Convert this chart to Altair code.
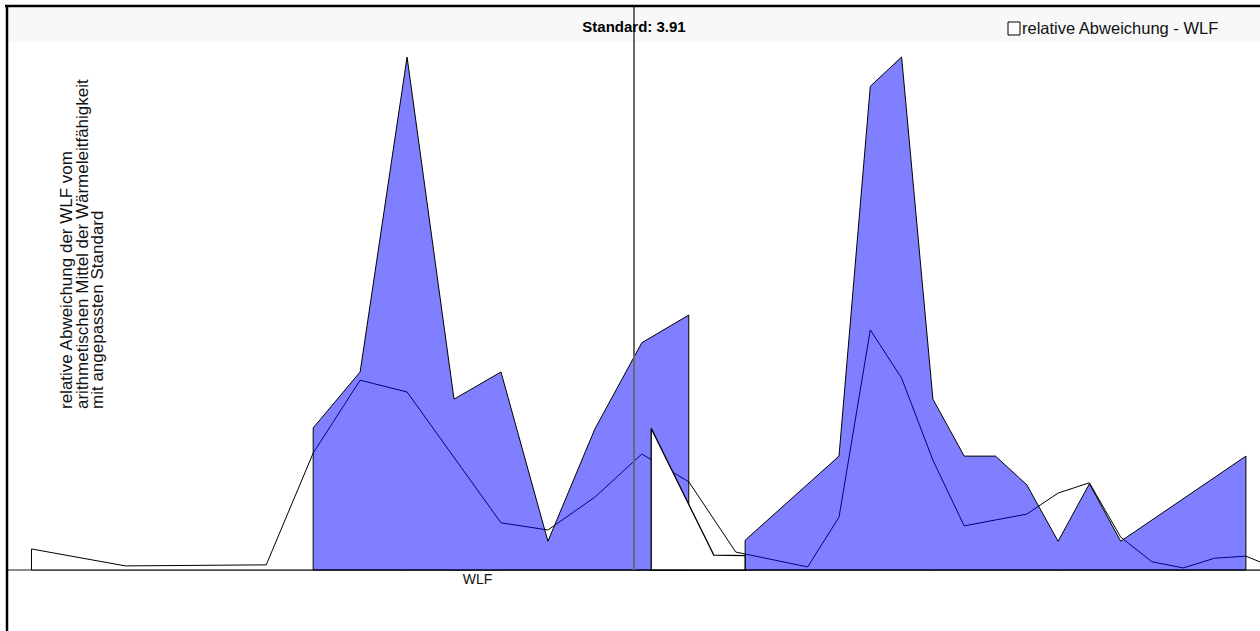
import altair as alt
import pandas as pd

line_x = [0.75, 3.75, 8.25, 9.75, 11.25, 12.75, 15.75, 17.25, 18.75, 20.25, 21.75, 23.25,
          25.55, 26.55, 27.55, 28.55, 29.55, 30.55, 31.55, 32.55, 33.55, 34.55, 35.55,
          36.55, 37.55, 38.55, 39.55, 40.55]
line_v = [4.1, 0.8, 1.0, 22.8, 37.0, 34.7, 9.2, 7.8, 14.2, 22.6, 17.2, 3.5,
          0.6, 10.3, 46.8, 37.4, 21.4, 8.6, 9.75, 10.9, 15.0, 17.0, 6.4,
          1.6, 0.4, 2.3, 2.7, 0.2]

blue1_x = [9.75, 11.25, 12.75, 14.25, 15.75, 17.25, 18.75, 20.25, 21.75]
blue1_v = [27.7, 38.6, 100.0, 33.3, 38.6, 5.6, 27.5, 44.3, 49.7]
blue2_x = [23.55, 26.55, 27.55, 28.55, 29.55, 30.55, 31.55, 32.55, 33.55, 34.55, 35.55, 39.55]
blue2_v = [5.8, 22.2, 94.3, 100.0, 33.3, 22.2, 22.2, 16.6, 5.6, 16.8, 5.6, 22.2]

tri_x = [20.55, 22.55, 23.55]
tri_v = [27.6, 2.9, 2.8]

standard_x = [20.0]
category_x = [15.0]
category_label = ["WLF"]
title_text = ["Standard: 3.91"]
legend_label = ["relative Abweichung - WLF"]
y_title = ["relative Abweichung der WLF vom\narithmetischen Mittel der Wärmeleitfähigkeit\nmit angepassten Standard"]

FONT = "Liberation Sans"

line_df = pd.DataFrame({"x": line_x, "v": line_v})
blue_df = pd.DataFrame({
    "x": blue1_x + blue2_x,
    "v": blue1_v + blue2_v,
    "region": ["a"] * len(blue1_x) + ["b"] * len(blue2_x),
})
tri_df = pd.DataFrame({"x": tri_x, "v": tri_v})
std_df = pd.DataFrame({"x": standard_x})
cat_df = pd.DataFrame({"x": category_x, "t": category_label})
one = pd.DataFrame({"a": [0]})
base_df = pd.DataFrame({"v": [0.0]})

xs = alt.Scale(domain=[0, 40], range=[8, 1260], nice=False, zero=False)
ys = alt.Scale(domain=[0, 100], range=[570, 57], nice=False, zero=False)

X = alt.X("x:Q", scale=xs, axis=None)
Y = alt.Y("v:Q", scale=ys, axis=None, stack=None)

band = alt.Chart(one).mark_rect(color="#f8f8f8").encode(
    x=alt.value(8), x2=alt.value(1260), y=alt.value(7), y2=alt.value(42))

baseline = alt.Chart(base_df).mark_rule(color="#8c8c8c", strokeWidth=2).encode(
    x=alt.value(8), x2=alt.value(1260), y=Y)

long_area = alt.Chart(line_df).mark_area(
    fill="white", stroke="black", strokeWidth=1, clip=True).encode(x=X, y=Y)

blue_area = alt.Chart(blue_df).mark_area(
    fill="#0000ff", fillOpacity=0.5, stroke="black", strokeWidth=1).encode(
    x=X, y=Y, detail="region:N")

tri_area = alt.Chart(tri_df).mark_area(
    fill="white", stroke="black", strokeWidth=1.3).encode(x=X, y=Y)

std_rule = alt.Chart(std_df).mark_rule(color="#6a6a6a", strokeWidth=2).encode(
    x=X, y=alt.value(7), y2=alt.value(570))

border_left = alt.Chart(one).mark_rule(color="black", strokeWidth=2.5).encode(
    x=alt.value(7), y=alt.value(5), y2=alt.value(631))
border_top = alt.Chart(one).mark_rule(color="black", strokeWidth=2.5).encode(
    x=alt.value(5), x2=alt.value(1260), y=alt.value(6))

title = alt.Chart(pd.DataFrame({"t": title_text})).mark_text(
    font=FONT, fontSize=15, fontWeight="bold", color="black",
    align="center", baseline="middle").encode(
    x=alt.value(634), y=alt.value(27), text="t:N")

legend_box = alt.Chart(one).mark_rect(
    fill="white", stroke="black", strokeWidth=1).encode(
    x=alt.value(1008), x2=alt.value(1020), y=alt.value(22), y2=alt.value(35))
legend_text = alt.Chart(pd.DataFrame({"t": legend_label})).mark_text(
    font=FONT, fontSize=16.5, color="#111", align="left", baseline="middle").encode(
    x=alt.value(1022), y=alt.value(29), text="t:N")

ytitle = alt.Chart(pd.DataFrame({"t": y_title})).mark_text(
    font=FONT, fontSize=17, lineHeight=15.5, color="#111", angle=270,
    align="left", baseline="middle", lineBreak="\n").encode(
    x=alt.value(67), y=alt.value(409), text="t:N")

cat_text = alt.Chart(cat_df).mark_text(
    font=FONT, fontSize=14, color="#111", align="center", baseline="middle").encode(
    x=X, y=alt.value(580), text="t:N")

chart = alt.layer(
    band, baseline, long_area, blue_area, tri_area, std_rule,
    border_left, border_top, title, legend_box, legend_text, ytitle, cat_text
).properties(
    width=1260, height=631, padding=0, autosize=alt.AutoSizeParams(type="none")
).configure_view(stroke=None)

chart.save("out.html", embed_options={"renderer": "svg", "actions": False})
